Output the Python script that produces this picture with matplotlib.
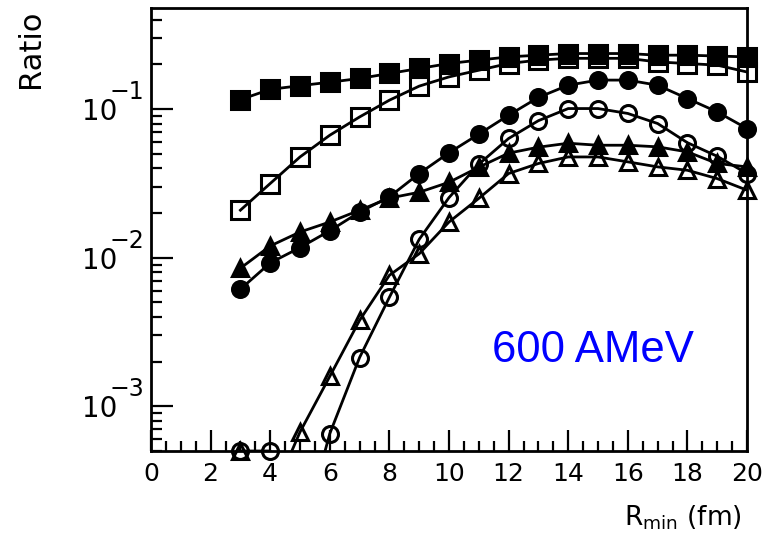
import numpy as np
import matplotlib
matplotlib.use("Agg")
import matplotlib.pyplot as plt
from matplotlib.ticker import MultipleLocator, LogLocator, NullFormatter, FixedLocator

plt.rcParams['font.family'] = ['DejaVu Sans']
plt.rcParams['mathtext.fontset'] = 'dejavusans'

# ---------------- data ----------------
r_min = [3, 4, 5, 6, 7, 8, 9, 10, 11, 12, 13, 14, 15, 16, 17, 18, 19, 20]

filled_squares = [0.116, 0.136, 0.144, 0.152, 0.161, 0.174, 0.188, 0.203, 0.214,
                  0.225, 0.231, 0.237, 0.237, 0.237, 0.231, 0.231, 0.228, 0.225]
open_squares = [0.0209, 0.0316, 0.0477, 0.0668, 0.0887, 0.115, 0.143, 0.165, 0.183,
                0.203, 0.214, 0.220, 0.220, 0.220, 0.208, 0.203, 0.198, 0.178]
filled_circles = [0.00614, 0.00923, 0.0117, 0.0152, 0.0203, 0.0257, 0.0369, 0.0509, 0.0679,
                  0.0911, 0.120, 0.145, 0.157, 0.157, 0.145, 0.118, 0.0959, 0.0741]
open_circles = [5e-4, 5e-4, 1.2e-4, 6.55e-4, 2.13e-3, 5.42e-3, 0.0133, 0.0254, 0.0426,
                0.0635, 0.0837, 0.101, 0.101, 0.0936, 0.0801, 0.0595, 0.0482, 0.0369]
filled_triangles = [0.0085, 0.0120, 0.0149, 0.0174, 0.0209, 0.0252, 0.0276, 0.0322, 0.0407,
                    0.0506, 0.0555, 0.059, 0.0572, 0.0572, 0.0558, 0.0516, 0.0431, 0.0409]
open_triangles = [5e-4, 2.3e-4, 6.71e-4, 1.59e-3, 3.79e-3, 7.62e-3, 0.01064, 0.0174, 0.0251,
                  0.0369, 0.0431, 0.0477, 0.0477, 0.0442, 0.0409, 0.0388, 0.0341, 0.0285]

x_ticks = [0, 2, 4, 6, 8, 10, 12, 14, 16, 18, 20]
y_major = [1e-3, 1e-2, 1e-1]
y_exponents = ["\u22123", "\u22122", "\u22121"]

YMIN, YMAX = 5e-4, 0.48

# ---------------- figure ----------------
W, H = 779, 536
fig = plt.figure(figsize=(W / 100, H / 100), dpi=100)
ax = fig.add_axes([151 / W, 1 - 451 / H, 596 / W, 443 / H])
ax.set_yscale('log')
ax.set_xlim(0, 20)
ax.set_ylim(YMIN, YMAX)

series = [
    (filled_squares, 's', 'black', 12.5),
    (open_squares, 's', 'none', 12.5),
    (filled_circles, 'o', 'black', 11.5),
    (open_circles, 'o', 'none', 11.5),
    (filled_triangles, '^', 'black', 12),
    (open_triangles, '^', 'none', 12),
]

x = np.array(r_min, dtype=float)
for vals, mk, fc, ms in series:
    v = np.array(vals, dtype=float)
    ax.plot(x, v, '-', color='black', lw=2.0, zorder=2)
    vm = np.where(v >= YMIN * 0.999, v, np.nan)
    ax.plot(x, vm, linestyle='none', marker=mk, markersize=ms,
            markerfacecolor=fc, markeredgecolor='black', markeredgewidth=2.2,
            clip_on=False, zorder=3)

# spines
for s in ax.spines.values():
    s.set_linewidth(2.0)
    s.set_color('black')

# ticks
ax.xaxis.set_major_locator(FixedLocator(x_ticks))
ax.xaxis.set_minor_locator(MultipleLocator(0.5))
ax.set_xticklabels([str(t) for t in x_ticks])
ax.yaxis.set_major_locator(FixedLocator(y_major))
ax.yaxis.set_minor_locator(LogLocator(base=10, subs=np.arange(2, 10), numticks=20))
ax.yaxis.set_minor_formatter(NullFormatter())
ax.set_yticklabels(["10"] * len(y_major))

ax.tick_params(axis='both', which='both', direction='in', top=False, right=False, width=1.6)
ax.tick_params(axis='x', which='major', length=15, labelsize=18, pad=8)
ax.tick_params(axis='x', which='minor', length=7)
ax.tick_params(axis='y', which='major', length=16, labelsize=20, pad=24)
ax.tick_params(axis='y', which='minor', length=8)

for val, ex in zip(y_major, y_exponents):
    ax.annotate(ex, xy=(0, val), xycoords=('axes fraction', 'data'),
                xytext=(-42, 10), textcoords='offset pixels',
                ha='left', va='baseline', fontsize=17, annotation_clip=False)

# labels
fig.text(30 / W, 1 - 49 / H, "Ratio", rotation=90, ha='center', va='center', fontsize=22)
fig.text(742 / W, 1 - 526 / H, r"R$_{\mathrm{min}}$ (fm)", ha='right', va='baseline', fontsize=19)

fig.text(492 / W, 1 - 362 / H, "600 AMeV", ha='left', va='baseline',
         fontsize=31.5, color='#0000FF', family='Liberation Sans')

fig.savefig("out.png", dpi=100)
